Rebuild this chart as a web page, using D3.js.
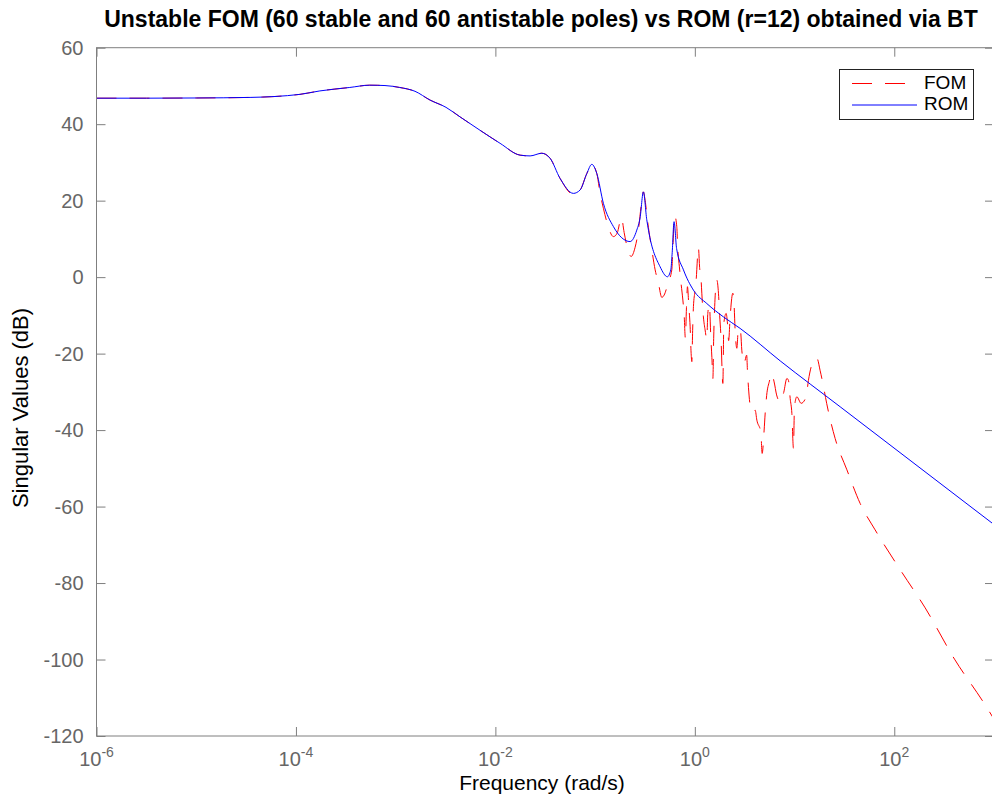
<!DOCTYPE html>
<html lang="en">
<head>
<meta charset="UTF-8" />
<title>FOM vs ROM</title>
<script src="https://d3js.org/d3.v7.min.js"></script>
<style>
  body { margin: 0; background: #fff; }
  svg { display: block; font-family: "Liberation Sans", Arial, Helvetica, sans-serif; }
</style>
</head>
<body>
<svg width="992" height="797"></svg>
<script>
// tick values
const yTicks = [-120, -100, -80, -60, -40, -20, 0, 20, 40, 60];
const xTickExps = [-6, -4, -2, 0, 2];

// reduced order model (log10 of rad/s, dB)
const romLogFreq = [-6, -5.5, -5, -4.46, -3.96, -3.76, -3.46, -3.26, -3.107, -2.96, -2.806, -2.655,
  -2.495, -2.354, -2.154, -1.953, -1.752, -1.652, -1.535, -1.452, -1.351, -1.218, -1.15, -1.083,
  -1.033, -0.983, -0.917, -0.816, -0.649, -0.582, -0.549, -0.516, -0.482, -0.465, -0.348, -0.275,
  -0.241, -0.228, -0.208, -0.183, -0.114, -0.014, 0.12, 0.287, 0.454, 0.856, 1.457, 3.0];
const romDb = [46.8, 46.8, 46.85, 47.0, 47.8, 48.7, 49.6, 50.2, 50.1, 49.6, 48.6, 46.3,
  44.4, 41.9, 38.4, 35.0, 31.9, 31.7, 32.4, 31.1, 25.8, 21.9, 22.8, 27.1,
  29.5, 27.1, 19.3, 13.2, 9.3, 12.3, 15.5, 22.3, 15.0, 12.3, 2.7, 0.1,
  1.9, 6.0, 14.5, 7.5, 1.9, -3.4, -6.9, -10.4, -13.4, -21.9, -33.9, -64.7];

// full order model
const fomLogFreq = [-6, -5.5, -5, -4.46, -3.96, -3.76, -3.46, -3.26, -3.107, -2.96, -2.806, -2.655,
  -2.495, -2.354, -2.154, -1.953, -1.752, -1.652, -1.535, -1.452, -1.351, -1.218, -1.15, -1.083,
  -1.033, -0.983, -0.95, -0.917,
  -0.883, -0.816, -0.779, -0.736, -0.709, -0.679, -0.639, -0.599, -0.566, -0.539, -0.516, -0.498,
  -0.475, -0.431, -0.398, -0.365, -0.331, -0.308, -0.265, -0.231, -0.218, -0.203, -0.181, -0.171,
  -0.155, -0.14, -0.12, -0.107, -0.095, -0.084, -0.074, -0.06, -0.047, -0.037, -0.03, -0.022,
  -0.014, 0.003, 0.013, 0.036, 0.048, 0.063, 0.07, 0.086, 0.103, 0.12, 0.13, 0.146,
  0.16, 0.171, 0.181, 0.189, 0.199, 0.221, 0.237, 0.249, 0.261, 0.281, 0.291, 0.314,
  0.327, 0.339, 0.354, 0.381, 0.394, 0.404, 0.421, 0.437, 0.459, 0.471, 0.494, 0.52,
  0.528, 0.538, 0.555, 0.588, 0.605, 0.622, 0.662, 0.675, 0.695, 0.705, 0.72, 0.748,
  0.77, 0.795, 0.82, 0.856, 0.891, 0.923, 0.939, 0.956, 0.973, 0.989, 0.999, 1.023,
  1.066, 1.116, 1.139, 1.166, 1.19, 1.224, 1.257, 1.287, 1.322, 1.407, 1.525, 1.658,
  1.808, 2.059, 2.31, 2.604, 2.912, 3.0];
const fomDb = [46.8, 46.8, 46.85, 47.0, 47.8, 48.7, 49.6, 50.2, 50.1, 49.6, 48.6, 46.3,
  44.4, 41.9, 38.4, 35.0, 31.9, 31.7, 32.4, 31.1, 25.8, 21.6, 22.8, 27.1,
  29.5, 27.1, 21.9, 18.0,
  14.5, 10.6, 11.5, 15.6, 11.7, 7.9, 5.4, 7.8, 12.3, 18.5, 22.3, 20.0,
  14.9, 7.1, 1.9, -1.6, -5.3, -4.7, -1.2, 1.9, 9.0, 16.2, 13.2, 7.5,
  2.7, -1.2, -6.0, -9.9, -16.0, -8.0, -2.5, -7.7, -13.0, -20.0, -22.1, -14.0,
  -7.7, -3.4, -0.8, 7.7, 2.5, -0.8, -4.2, -10.4, -13.8, -16.2, -9.5, -7.2,
  -15.6, -21.0, -26.5, -16.0, -7.7, -0.8, -4.2, -10.0, -15.1, -27.8, -12.0, -9.5,
  -12.0, -16.6, -10.4, -4.2, -7.5, -13.8, -18.6, -13.4, -14.3, -19.1, -22.5, -20.4,
  -24.7, -28.9, -33.5, -35.4, -34.8, -37.4, -40.6, -46.1, -40.0, -35.8, -31.0, -27.2,
  -25.2, -27.4, -30.8, -32.6, -30.2, -26.5, -27.0, -31.7, -35.6, -44.8, -34.0, -31.3,
  -33.0, -31.3, -27.0, -23.5, -21.7, -21.2, -24.5, -28.2, -33.0, -42.2, -50.4, -59.2,
  -66.1, -76.5, -86.5, -99.9, -111.9, -115.6];

const margin = { top: 47.7, left: 96.5 },
  width = 897.5,
  height = 688.3;
const axisGray = "#7f7f7f", textGray = "#666666";

const svg = d3.select("svg");
const chart = svg.append("g")
  .attr("transform", "translate(" + margin.left + "," + margin.top + ")");

const x = d3.scaleLog().domain([1e-6, 1e3]).range([0, width]);
const y = d3.scaleLinear().domain([-120, 60]).range([height, 0]);

svg.append("defs").append("clipPath").attr("id", "plotclip")
  .append("rect").attr("width", width).attr("height", height);

// curves
const toPts = (lf, db) => lf.map((v, i) => [Math.pow(10, v), db[i]]);
const line = d3.line()
  .x((d) => x(d[0]))
  .y((d) => y(d[1]))
  .curve(d3.curveMonotoneX);

const plot = chart.append("g").attr("clip-path", "url(#plotclip)");
plot.append("path")
  .attr("d", line(toPts(fomLogFreq, fomDb)))
  .attr("fill", "none")
  .attr("stroke", "#ff0000")
  .attr("stroke-width", 1)
  .attr("stroke-dasharray", "20,13");
plot.append("path")
  .attr("d", line(toPts(romLogFreq, romDb)))
  .attr("fill", "none")
  .attr("stroke", "#0000ff")
  .attr("stroke-width", 1);

// axes, ticks pointing inward on all four sides
const xVals = xTickExps.map((e) => Math.pow(10, e));
function styleAxis(g) {
  g.select(".domain").remove();
  g.selectAll(".tick line").attr("stroke", axisGray);
}
chart.append("g").attr("transform", "translate(0," + height + ")")
  .call(d3.axisBottom(x).tickValues(xVals).tickSize(-9).tickFormat(""))
  .call(styleAxis);
chart.append("g")
  .call(d3.axisTop(x).tickValues(xVals).tickSize(-9).tickFormat(""))
  .call(styleAxis);
chart.append("g")
  .call(d3.axisLeft(y).tickValues(yTicks).tickSize(-9).tickFormat(""))
  .call(styleAxis);
chart.append("g").attr("transform", "translate(" + width + ",0)")
  .call(d3.axisRight(y).tickValues(yTicks).tickSize(-9).tickFormat(""))
  .call(styleAxis);

chart.append("rect")
  .attr("width", width).attr("height", height)
  .attr("fill", "none").attr("stroke", axisGray).attr("stroke-width", 1);

// tick labels
chart.selectAll(".ylab").data(yTicks).enter().append("text")
  .attr("x", -13)
  .attr("y", (d) => y(d))
  .attr("dy", "0.36em")
  .attr("text-anchor", "end")
  .attr("fill", textGray)
  .style("font-size", "20px")
  .text((d) => d);

const xl = chart.selectAll(".xlab").data(xTickExps).enter().append("text")
  .attr("x", (d) => x(Math.pow(10, d)))
  .attr("y", height + 30)
  .attr("text-anchor", "middle")
  .attr("fill", textGray)
  .style("font-size", "20px");
xl.append("tspan").text("10");
xl.append("tspan").attr("dy", -9).style("font-size", "14px").text((d) => d);

// titles
svg.append("text")
  .attr("x", 541).attr("y", 27)
  .attr("text-anchor", "middle")
  .style("font-size", "23px").style("font-weight", "bold")
  .text("Unstable FOM (60 stable and 60 antistable poles) vs ROM (r=12) obtained via BT");
svg.append("text")
  .attr("x", 542).attr("y", 790)
  .attr("text-anchor", "middle")
  .style("font-size", "21px")
  .text("Frequency (rad/s)");
svg.append("text")
  .attr("transform", "translate(28,408) rotate(-90)")
  .attr("text-anchor", "middle")
  .style("font-size", "22px")
  .text("Singular Values (dB)");

// legend
const leg = svg.append("g");
leg.append("rect")
  .attr("x", 839.5).attr("y", 69.5).attr("width", 134).attr("height", 50)
  .attr("fill", "#fff").attr("stroke", "#222").attr("stroke-width", 1);
const legItems = [
  { name: "FOM", color: "#ff0000", dash: "20,13" },
  { name: "ROM", color: "#0000ff", dash: null }
];
legItems.forEach((d, i) => {
  const ly = 83.5 + i * 21.5;
  leg.append("line")
    .attr("x1", 852).attr("x2", 917).attr("y1", ly).attr("y2", ly)
    .attr("stroke", d.color).attr("stroke-width", 1)
    .attr("stroke-dasharray", d.dash);
  leg.append("text")
    .attr("x", 924).attr("y", ly + 5)
    .style("font-size", "19px")
    .text(d.name);
});
</script>
</body>
</html>
